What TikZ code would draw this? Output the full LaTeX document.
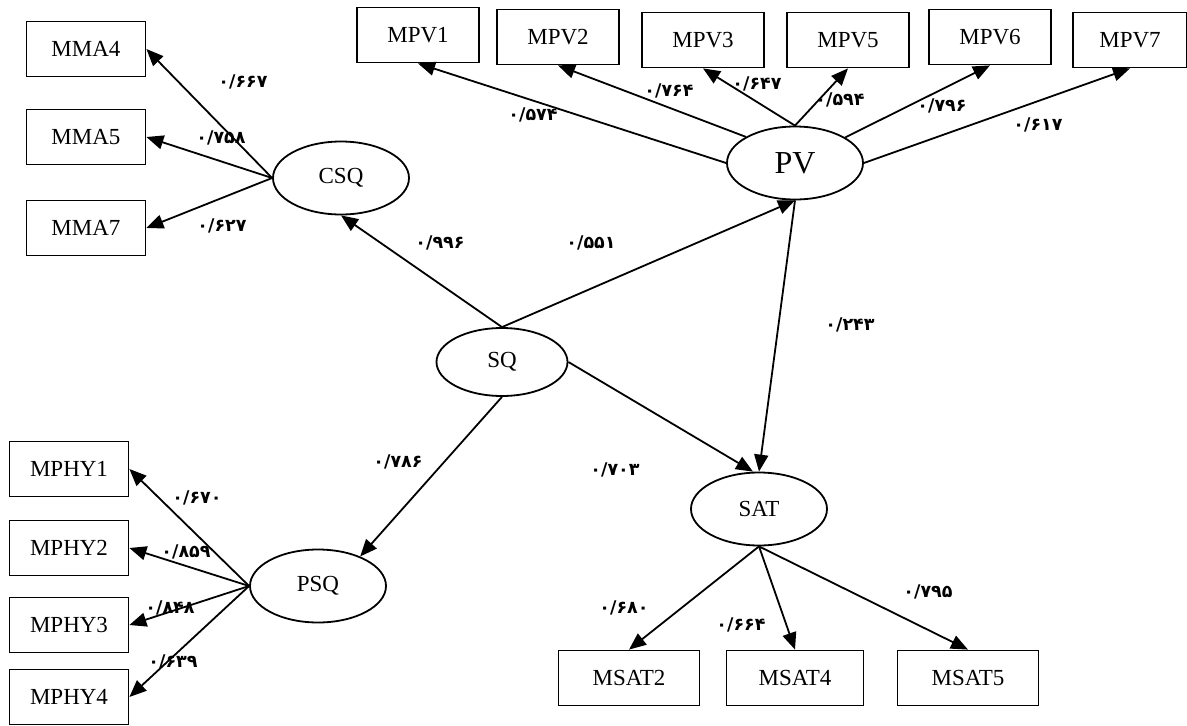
\documentclass[tikz,border=0pt]{standalone}
\usepackage{fontspec}
\setmainfont{Liberation Serif}
\newfontfamily\fanum[Script=Arabic]{DejaVu Sans}
\usetikzlibrary{arrows.meta,shapes.geometric}

\begin{document}
\begin{tikzpicture}[x=1pt, y=-1pt, line width=1.8pt,
  every node/.style={font=\fontsize{23}{26}\selectfont},
  obs/.style={draw, minimum width=119pt, minimum height=55pt, inner sep=0pt},
  lat/.style={draw, ellipse, minimum width=136pt, minimum height=73pt, inner sep=0pt},
  coef/.style={font=\fanum\bfseries\fontsize{17.5}{20}\selectfont},
  path/.style={-{Triangle[length=17pt,width=14pt]}}]
  \useasboundingbox (0,0) rectangle (1187,726);
  % latent variables
  \node[lat] (csq) at (341,178) {CSQ};
  \node[lat, font=\fontsize{32}{36}\selectfont] (pv) at (795,163) {PV};
  \node[lat, minimum width=131pt, minimum height=68pt] (sq) at (502,362) {SQ};
  \node[lat] (sat) at (759,509) {SAT};
  \node[lat] (psq) at (318,586) {PSQ};
  % indicators
  \node[obs] (mma4) at (86,49) {MMA4};
  \node[obs] (mma5) at (86,137) {MMA5};
  \node[obs] (mma7) at (86,228) {MMA7};
  \node[obs, minimum width=122pt] (mpv1) at (418,35) {MPV1};
  \node[obs, minimum width=122pt] (mpv2) at (558,37) {MPV2};
  \node[obs, minimum width=122pt] (mpv3) at (703,40) {MPV3};
  \node[obs, minimum width=122pt] (mpv5) at (848,40) {MPV5};
  \node[obs, minimum width=122pt] (mpv6) at (990,37) {MPV6};
  \node[obs, minimum width=114pt] (mpv7) at (1130,40) {MPV7};
  \node[obs] (mphy1) at (69,469) {MPHY1};
  \node[obs] (mphy2) at (69,548) {MPHY2};
  \node[obs] (mphy3) at (69,625) {MPHY3};
  \node[obs] (mphy4) at (69,697) {MPHY4};
  \node[obs, minimum width=141pt] (msat2) at (629,678) {MSAT2};
  \node[obs, minimum width=137pt] (msat4) at (795,678) {MSAT4};
  \node[obs, minimum width=141pt] (msat5) at (968,678) {MSAT5};
  % structural paths
  \draw[path] (sq.north) -- (csq.south);
  \draw[path] (sq.north) -- (pv.south);
  \draw[path] (sq.east) -- ([xshift=-6pt]sat.north);
  \draw[path] (sq.south) -- (psq.35);
  \draw[path] (pv.south) -- (sat.north);
  % measurement paths
  \draw[path] (csq.west) -- (mma4.east);
  \draw[path] (csq.west) -- (mma5.east);
  \draw[path] (csq.west) -- (mma7.east);
  \draw[path] (pv.west) -- (mpv1.south);
  \draw[path] (pv.152) -- (mpv2.south);
  \draw[path] (pv.north) -- (mpv3.south);
  \draw[path] (pv.north) -- (mpv5.south);
  \draw[path] (pv.27) -- (mpv6.south);
  \draw[path] (pv.east) -- (mpv7.south);
  \draw[path] (psq.west) -- (mphy1.east);
  \draw[path] (psq.west) -- (mphy2.east);
  \draw[path] (psq.west) -- (mphy3.east);
  \draw[path] (psq.west) -- (mphy4.east);
  \draw[path] (sat.south) -- (msat2.north);
  \draw[path] (sat.south) -- (msat4.north);
  \draw[path] (sat.south) -- (msat5.north);
  % loadings
  \node[coef] (c1) at (243,82) {۰/۶۶۷};
  \node[coef] (c2) at (221,138) {۰/۷۵۸};
  \node[coef] (c3) at (222,226) {۰/۶۲۷};
  \node[coef] (c4) at (440,243) {۰/۹۹۶};
  \node[coef] (c5) at (591,243) {۰/۵۵۱};
  \node[coef] (c6) at (533,115) {۰/۵۷۴};
  \node[coef] (c7) at (669,91) {۰/۷۶۴};
  \node[coef] (c8) at (757,84) {۰/۶۴۷};
  \node[coef] (c9) at (840,100) {۰/۵۹۴};
  \node[coef] (c10) at (942,106) {۰/۷۹۶};
  \node[coef] (c11) at (1038,125) {۰/۶۱۷};
  \node[coef] (c12) at (850,325) {۰/۲۴۳};
  \node[coef] (c13) at (398,462) {۰/۷۸۶};
  \node[coef] (c14) at (615,470) {۰/۷۰۳};
  \node[coef] (c15) at (197,498) {۰/۶۷۰};
  \node[coef] (c16) at (186,552) {۰/۸۵۹};
  \node[coef] (c17) at (170,608) {۰/۸۴۸};
  \node[coef] (c18) at (173,662) {۰/۶۳۹};
  \node[coef] (c19) at (624,608) {۰/۶۸۰};
  \node[coef] (c20) at (741,625) {۰/۶۶۴};
  \node[coef] (c21) at (928,592) {۰/۷۹۵};
\end{tikzpicture}
\end{document}
